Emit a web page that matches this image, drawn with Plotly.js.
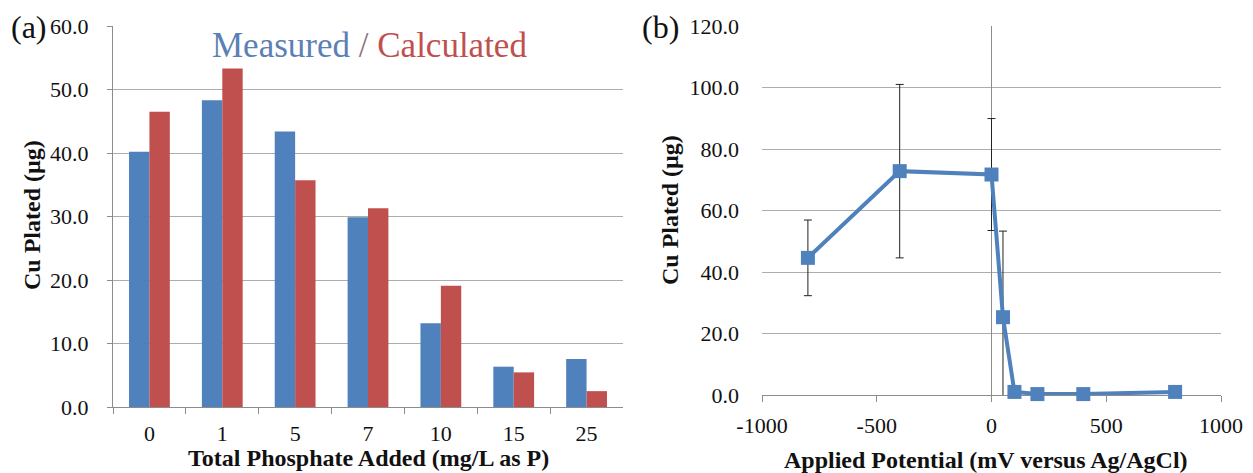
<!DOCTYPE html>
<html>
<head>
<meta charset="utf-8">
<script src="https://cdn.plot.ly/plotly-3.0.1.min.js"></script>
<style>html,body{margin:0;padding:0;background:#fff;}#chart{width:1253px;height:473px;}</style>
</head>
<body>
<div id="chart"></div>
<script>
// ---------- Data: panel (a) ----------
var phosphateCategories = ['0', '1', '5', '7', '10', '15', '25'];
var measuredCu = [40.2, 48.3, 43.4, 29.9, 13.2, 6.35, 7.55];
var calculatedCu = [46.5, 53.3, 35.7, 31.3, 19.1, 5.45, 2.5];

// ---------- Data: panel (b) ----------
var appliedPotential = [-800, -400, 0, 50, 100, 200, 400, 800];
var cuPlated = [44.6, 72.8, 71.7, 25.3, 1.0, 0.3, 0.3, 1.0];
var cuPlatedErr = [12.3, 28.2, 18.2, 28.0, 0, 0, 0, 0];
var potentialTickVals = [-1000, -500, 0, 500, 1000];
var potentialTickText = ['-1000', '-500', '0', '500', '1000'];

var W = 1253, H = 473;
function px(x) { return x / W; }
function py(y) { return 1 - y / H; }

var BLUE = '#4F81BD', RED = '#C0504D';
var SERIF = 'Liberation Serif';
var GRID = '#ADADAD', AXIS = '#8C8C8C';

var traces = [
  { type: 'bar', x: phosphateCategories, y: measuredCu, name: 'Measured',
    marker: { color: BLUE }, xaxis: 'x', yaxis: 'y', hoverinfo: 'none' },
  { type: 'bar', x: phosphateCategories, y: calculatedCu, name: 'Calculated',
    marker: { color: RED }, xaxis: 'x', yaxis: 'y', hoverinfo: 'none' },
  { type: 'scatter', mode: 'lines', x: appliedPotential, y: cuPlated,
    line: { color: BLUE, width: 4 },
    error_y: { type: 'data', array: cuPlatedErr, visible: true, color: '#222', thickness: 1, width: 4 },
    cliponaxis: true, xaxis: 'x2', yaxis: 'y2', hoverinfo: 'none' },
  { type: 'scatter', mode: 'markers', x: appliedPotential, y: cuPlated,
    marker: { color: BLUE, symbol: 'square', size: 14 },
    cliponaxis: false, xaxis: 'x2', yaxis: 'y2', hoverinfo: 'none' }
];

var tickFont = { family: SERIF, size: 22, color: '#111' };
var titleFont = { family: SERIF, size: 24, color: '#111', weight: 'bold' };

var layout = {
  width: W, height: H,
  margin: { l: 0, r: 0, t: 0, b: 0, pad: 0 },
  paper_bgcolor: '#fff', plot_bgcolor: '#fff',
  showlegend: false,
  barmode: 'group', bargap: 0.44, bargroupgap: 0,
  font: { family: SERIF, color: '#111' },
  xaxis: {
    domain: [px(113), px(623)], anchor: 'y', type: 'category',
    showline: true, linecolor: AXIS, linewidth: 1,
    ticks: 'outside', tickson: 'boundaries', ticklen: 6, tickcolor: AXIS,
    ticklabelstandoff: 7, tickfont: tickFont, showgrid: false, zeroline: false,
    automargin: false, fixedrange: true
  },
  yaxis: {
    domain: [py(407), py(26)], anchor: 'x',
    range: [0, 60], dtick: 10, tick0: 0, tickformat: '.1f',
    showline: true, linecolor: AXIS, linewidth: 1,
    ticks: 'outside', ticklen: 5, tickcolor: AXIS, ticklabelstandoff: 14,
    tickfont: tickFont, showgrid: true, gridcolor: GRID, gridwidth: 1,
    zeroline: false, automargin: false, fixedrange: true
  },
  xaxis2: {
    domain: [px(762), px(1221)], anchor: 'y2',
    range: [-1000, 1000], tickmode: 'array', tickvals: potentialTickVals, ticktext: potentialTickText,
    showline: true, linecolor: AXIS, linewidth: 1,
    ticks: 'outside', ticklen: 6, tickcolor: AXIS, ticklabelstandoff: 5,
    tickfont: tickFont, showgrid: false,
    zeroline: true, zerolinecolor: AXIS, zerolinewidth: 1,
    layer: 'below traces', automargin: false, fixedrange: true
  },
  yaxis2: {
    domain: [py(395), py(26)], anchor: 'x2',
    range: [0, 120], dtick: 20, tick0: 0, tickformat: '.1f',
    showline: false, ticks: '', ticklabelstandoff: 22,
    tickfont: tickFont, showgrid: true, gridcolor: GRID, gridwidth: 1,
    zeroline: false, layer: 'below traces', automargin: false, fixedrange: true
  },
  annotations: [
    { xref: 'paper', yref: 'paper', x: px(29), y: py(27), text: '(a)', showarrow: false,
      font: { family: SERIF, size: 32, color: '#111' }, xanchor: 'center', yanchor: 'middle' },
    { xref: 'paper', yref: 'paper', x: px(660), y: py(27), text: '(b)', showarrow: false,
      font: { family: SERIF, size: 32, color: '#111' }, xanchor: 'center', yanchor: 'middle' },
    { xref: 'paper', yref: 'paper', x: px(369), y: py(46),
      text: '<span style="color:#5B7FB6">Measured</span><span style="color:#8E7683"> / </span><span style="color:#C0504D">Calculated</span>',
      showarrow: false, font: { family: SERIF, size: 35 }, xanchor: 'center', yanchor: 'middle' },
    { xref: 'paper', yref: 'paper', x: px(32), y: py(215), text: 'Cu Plated (µg)', textangle: -90,
      showarrow: false, font: titleFont, xanchor: 'center', yanchor: 'middle' },
    { xref: 'paper', yref: 'paper', x: px(368), y: py(458), text: 'Total Phosphate Added (mg/L as P)',
      showarrow: false, font: titleFont, xanchor: 'center', yanchor: 'middle' },
    { xref: 'paper', yref: 'paper', x: px(670), y: py(210), text: 'Cu Plated (µg)', textangle: -90,
      showarrow: false, font: titleFont, xanchor: 'center', yanchor: 'middle' },
    { xref: 'paper', yref: 'paper', x: px(986), y: py(460), text: 'Applied Potential (mV versus Ag/AgCl)',
      showarrow: false, font: titleFont, xanchor: 'center', yanchor: 'middle' }
  ]
};

Plotly.newPlot('chart', traces, layout, { staticPlot: true, displayModeBar: false });
</script>
</body>
</html>
